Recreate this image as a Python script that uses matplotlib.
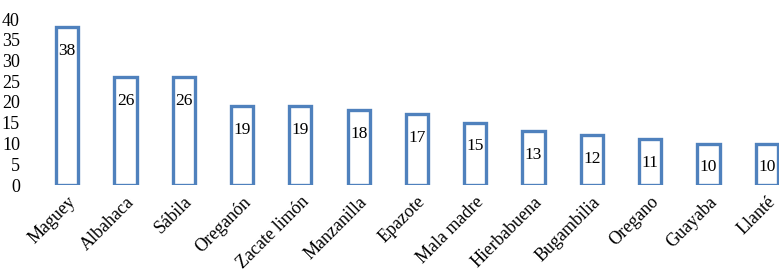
import matplotlib
matplotlib.use("Agg")
import matplotlib.pyplot as plt

categories = ["Maguey", "Albahaca", "Sábila", "Oreganón", "Zacate limón", "Manzanilla",
              "Epazote", "Mala madre", "Hierbabuena", "Bugambilia", "Oregano", "Guayaba", "Llanté"]
values = [38, 26, 26, 19, 19, 18, 17, 15, 13, 12, 11, 10, 10]
yticks = [0, 5, 10, 15, 20, 25, 30, 35, 40]

plt.rcParams['font.family'] = ['Liberation Serif', 'DejaVu Serif']

fig = plt.figure(figsize=(7.79, 2.72), dpi=100)
W, H = 779, 272
ax = fig.add_axes([38 / W, 87 / H, 13 * 58.3 / W, 166 / H])

x = list(range(len(categories)))
bars = ax.bar(x, values, width=0.38, facecolor='white', edgecolor='#4F81BD', linewidth=2.4)
for xi, v in zip(x, values):
    ax.annotate(str(v), (xi, v), xytext=(0, -17), textcoords='offset points',
                ha='center', va='center', fontsize=12.5, color='black')

ax.set_xlim(-0.5, len(categories) - 0.5)
ax.set_ylim(0, 40)
ax.set_yticks(yticks)
ax.set_yticklabels([str(t) for t in yticks], fontsize=13)
ax.set_xticks(x)
ax.set_xticklabels(categories, rotation=45, ha='right', rotation_mode='anchor', fontsize=13)
ax.tick_params(axis='both', length=0)
ax.tick_params(axis='y', pad=13)
ax.tick_params(axis='x', pad=6)
for s in ax.spines.values():
    s.set_visible(False)

fig.savefig("out.png", dpi=100)
